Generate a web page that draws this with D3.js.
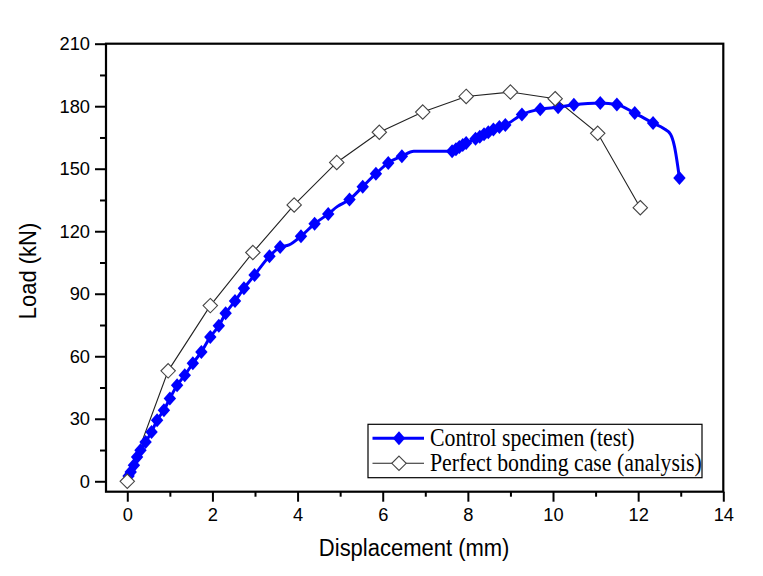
<!DOCTYPE html>
<html>
<head>
<meta charset="utf-8">
<script src="https://cdn.jsdelivr.net/npm/d3@7"></script>
<style>
  html, body { margin: 0; padding: 0; background: #fff; }
  svg { display: block; }
</style>
</head>
<body>
<svg id="chart" width="763" height="576"></svg>
<script>
// ---- data ----
const xTicks = [0, 2, 4, 6, 8, 10, 12, 14];
const xMinorTicks = [1, 3, 5, 7, 9, 11, 13];
const yTicks = [0, 30, 60, 90, 120, 150, 180, 210];
const yMinorTicks = [15, 45, 75, 105, 135, 165, 195];

const seriesNames = ["Control specimen (test)", "Perfect bonding case (analysis)"];

// Control specimen (test): displacement (mm), load (kN), whether a marker is drawn
const testDisp = [0.03, 0.08, 0.155, 0.23, 0.31, 0.43, 0.57, 0.70, 0.86, 1.0, 1.17, 1.35, 1.54, 1.74, 1.95,
  2.15, 2.31, 2.53, 2.74, 2.99, 3.34, 3.59, 3.8, 4.08, 4.40, 4.72, 4.93, 5.22, 5.53, 5.84, 6.13, 6.45, 6.73,
  7.63, 7.72, 7.80, 7.88, 7.96, 8.18, 8.28, 8.38, 8.48, 8.60, 8.74, 8.88, 9.27, 9.70, 10.12, 10.49, 11.11,
  11.5, 11.92, 12.35, 12.6, 12.76, 12.85, 12.97];
const testLoad = [2.5, 4.5, 7.7, 11.7, 14.9, 18.9, 23.7, 29.3, 34.1, 39.7, 46.1, 50.9, 56.6, 62.1, 69.3,
  74.6, 80.6, 86.5, 92.6, 99.0, 108, 112.4, 113.4, 117.6, 123.6, 128.3, 131.8, 135.2, 141.4, 147.6, 152.8, 156, 158.4,
  158.4, 159.4, 160.4, 161.4, 162.3, 164.4, 165.4, 166.5, 167.5, 168.8, 170, 171, 176, 178.6, 179.5, 180.7, 181.6,
  180.8, 176.7, 171.9, 169.3, 166.5, 161, 145.5];
const testMarked = [1, 1, 1, 1, 1, 1, 1, 1, 1, 1, 1, 1, 1, 1, 1,
  1, 1, 1, 1, 1, 1, 1, 0, 1, 1, 1, 0, 1, 1, 1, 1, 1, 0,
  1, 1, 1, 1, 1, 1, 1, 1, 1, 1, 1, 1, 1, 1, 1, 1, 1,
  1, 1, 1, 0, 0, 0, 1];

// Perfect bonding case (analysis)
const anaDisp = [0, 0.96, 1.95, 2.95, 3.92, 4.92, 5.92, 6.94, 7.96, 9.0, 10.05, 11.05, 12.05];
const anaLoad = [0, 53, 84.3, 109.8, 132.6, 153, 167.5, 177.2, 184.7, 186.8, 183.6, 167, 131.3];

// ---- layout ----
const svg = d3.select("#chart");
const L = 106, R = 723.3, T = 43.7, B = 491.7;
const x = d3.scaleLinear().domain([-0.5, 14]).range([L, R]);
const y = d3.scaleLinear().domain([-5, 210]).range([B, T]);

const sans = "'Liberation Sans', Arial, sans-serif";
const serif = "'Liberation Serif', 'Times New Roman', serif";

// axes (ticks outward, left and bottom)
const xAxis = svg.append("g").attr("transform", `translate(0,${B})`)
  .call(d3.axisBottom(x).tickValues(xTicks).tickSize(10).tickSizeOuter(0).tickPadding(6).tickFormat(d3.format("d")));
const xMinor = svg.append("g").attr("transform", `translate(0,${B})`)
  .call(d3.axisBottom(x).tickValues(xMinorTicks).tickSize(5).tickSizeOuter(0).tickFormat(""));
const yAxis = svg.append("g").attr("transform", `translate(${L},0)`)
  .call(d3.axisLeft(y).tickValues(yTicks).tickSize(11).tickSizeOuter(0).tickPadding(5).tickFormat(d3.format("d")));
const yMinor = svg.append("g").attr("transform", `translate(${L},0)`)
  .call(d3.axisLeft(y).tickValues(yMinorTicks).tickSize(6).tickSizeOuter(0).tickFormat(""));

[xAxis, xMinor, yAxis, yMinor].forEach(g => {
  g.select(".domain").remove();
  g.selectAll(".tick line").attr("stroke", "#000").attr("stroke-width", 2);
  g.selectAll(".tick text").attr("font-family", sans).attr("font-size", 18.3).attr("fill", "#000");
});

// frame
svg.append("rect").attr("x", L).attr("y", T).attr("width", R - L).attr("height", B - T)
  .attr("fill", "none").attr("stroke", "#000").attr("stroke-width", 2.2);

// axis titles
svg.append("text").attr("transform", `translate(${(L + R) / 2 - 0.5},556) scale(1,1.06)`)
  .attr("text-anchor", "middle").attr("font-family", sans).attr("font-size", 22)
  .text("Displacement (mm)");
svg.append("text").attr("transform", `translate(36,271) rotate(-90) scale(1,1.08)`)
  .attr("text-anchor", "middle").attr("font-family", sans).attr("font-size", 22)
  .text("Load (kN)");

// marker shapes
const filledDiamond = "M0,-7L6.2,0L0,7L-6.2,0Z";
const openDiamond = "M0,-7.2L7.2,0L0,7.2L-7.2,0Z";

// analysis series
const anaPts = anaDisp.map((d, i) => [d, anaLoad[i]]);
svg.append("path").datum(anaPts)
  .attr("fill", "none").attr("stroke", "#222").attr("stroke-width", 1.1)
  .attr("d", d3.line().x(d => x(d[0])).y(d => y(d[1])));

// test series
const testPts = testDisp.map((d, i) => [d, testLoad[i], testMarked[i]]);
svg.append("path").datum(testPts)
  .attr("fill", "none").attr("stroke", "#0000ff").attr("stroke-width", 3)
  .attr("stroke-linejoin", "round")
  .attr("d", d3.line().x(d => x(d[0])).y(d => y(d[1])).curve(d3.curveMonotoneX));
svg.append("g").selectAll("path").data(testPts.filter(d => d[2] === 1)).join("path")
  .attr("transform", d => `translate(${x(d[0])},${y(d[1])})`)
  .attr("d", filledDiamond).attr("fill", "#0000ff");

svg.append("g").selectAll("path").data(anaPts).join("path")
  .attr("transform", d => `translate(${x(d[0])},${y(d[1])})`)
  .attr("d", openDiamond).attr("fill", "#fff").attr("stroke", "#444").attr("stroke-width", 1.1);

// legend
const lg = svg.append("g");
lg.append("rect").attr("x", 368).attr("y", 424.3).attr("width", 334).attr("height", 53.4)
  .attr("fill", "#fff").attr("stroke", "#000").attr("stroke-width", 1.2);
const rows = [
  { name: seriesNames[0], y: 438.3, color: "#0000ff", w: 3, marker: filledDiamond, fill: "#0000ff", stroke: "none" },
  { name: seriesNames[1], y: 463.3, color: "#222", w: 1.1, marker: openDiamond, fill: "#fff", stroke: "#444" }
];
rows.forEach(r => {
  lg.append("line").attr("x1", 372.5).attr("x2", 424).attr("y1", r.y).attr("y2", r.y)
    .attr("stroke", r.color).attr("stroke-width", r.w);
  lg.append("path").attr("transform", `translate(399,${r.y})`).attr("d", r.marker)
    .attr("fill", r.fill).attr("stroke", r.stroke).attr("stroke-width", 1.1);
  lg.append("text").attr("transform", `translate(430,${r.y + 7.5}) scale(1,1.13)`)
    .attr("font-family", serif).attr("font-size", 21.8).attr("fill", "#000")
    .text(r.name);
});
</script>
</body>
</html>
